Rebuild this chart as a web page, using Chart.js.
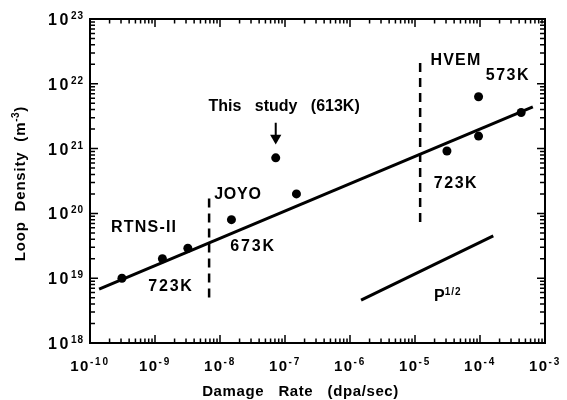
<!DOCTYPE html>
<html><head><meta charset="utf-8">
<script src="https://cdn.jsdelivr.net/npm/chart.js@4.4.1/dist/chart.umd.min.js"></script>
<style>html,body{margin:0;padding:0;background:#fff}#wrap{width:567px;height:400px;position:relative}</style>
</head><body><div id="wrap"><canvas id="c"></canvas></div>
<script>
// ---- data ----
const damageRate  = [3.1e-10, 1.3e-9, 3.2e-9, 1.5e-8, 7.2e-8, 1.5e-7, 3.1e-5, 9.5e-5, 9.5e-5, 4.3e-4];
const loopDensity = [1.0e19, 2.0e19, 2.9e19, 8.0e19, 7.2e20, 2.0e20, 9.2e20, 6.3e21, 1.56e21, 3.6e21];
const fitRate = [1.38e-10, 6.5e-4];
const fitDensity = [6.8e18, 4.4e21];
const slopeRate = [1.48e-6, 1.6e-4];
const slopeDensity = [4.6e18, 4.5e19];
const joyoBoundRate = [6.8e-9, 6.8e-9];
const joyoBoundDensity = [1.7e20, 4.3e18];
const hvemBoundRate = [1.2e-5, 1.2e-5];
const hvemBoundDensity = [2.1e22, 6.4e19];
const arrowRate = [7.2e-8, 7.2e-8];
const arrowDensity = [2.5e21, 1.5e21];
const arrowHeadRate = [7.2e-8];
const arrowHeadDensity = [1.46e21];
const xTickExponents = [-10, -9, -8, -7, -6, -5, -4, -3];
const yTickExponents = [18, 19, 20, 21, 22, 23];
const xTitle = 'Damage   Rate   (dpa/sec)';
const yTitle = ['Loop  Density  (m', '-3', ')'];
const noteTexts = ['RTNS-II', '723K', 'JOYO', '673K', 'This   study   (613K)', 'HVEM', '573K', '723K'];
const noteRates = [6.8e-10, 1.76e-9, 1.89e-8, 3.22e-8, 9.7e-8, 4.27e-5, 2.69e-4, 4.27e-5];
const noteDensities = [5.96e19, 7.3e18, 1.92e20, 3.03e19, 4.39e21, 2.25e22, 1.32e22, 2.84e20];
const noteSpacing = ['1.2px', '1.8px', '0.8px', '1.8px', '0px', '1.2px', '1.5px', '1.5px'];
const slopeNote = ['P', '1/2'];
const slopeNoteRate = 1.96e-5;
const slopeNoteDensity = 5.13e18;

const pts = (xs, ys) => xs.map((x, i) => ({x, y: ys[i]}));
const FONT = '"Liberation Sans", Arial, Helvetica, sans-serif';

function runs(ctx, parts, x, y, align) {
  let widths = parts.map(p => { ctx.font = p.font; ctx.letterSpacing = p.ls || '0px'; return ctx.measureText(p.t).width; });
  let total = widths.reduce((a, b) => a + b, 0);
  let sx = align === 'center' ? x - total / 2 : align === 'right' ? x - total : x;
  ctx.textAlign = 'left';
  parts.forEach((p, i) => {
    ctx.font = p.font; ctx.letterSpacing = p.ls || '0px';
    ctx.fillText(p.t, sx, y + (p.dy || 0));
    sx += widths[i];
  });
  ctx.letterSpacing = '0px';
}

const framePlugin = {
  id: 'frame',
  afterDatasetsDraw(chart) {
    const ctx = chart.ctx, a = chart.chartArea, xs = chart.scales.x, ys = chart.scales.y;
    ctx.save();
    ctx.strokeStyle = '#000'; ctx.fillStyle = '#000';
    ctx.lineWidth = 2;
    ctx.strokeRect(a.left, a.top, a.right - a.left, a.bottom - a.top);
    ctx.lineWidth = 1.5;
    const tick = (p, len, horiz) => {
      ctx.beginPath();
      if (horiz) {
        ctx.moveTo(p, a.bottom); ctx.lineTo(p, a.bottom - len);
        ctx.moveTo(p, a.top); ctx.lineTo(p, a.top + len);
      } else {
        ctx.moveTo(a.left, p); ctx.lineTo(a.left + len, p);
        ctx.moveTo(a.right, p); ctx.lineTo(a.right - len, p);
      }
      ctx.stroke();
    };
    xTickExponents.forEach((e, i) => {
      tick(xs.getPixelForValue(Math.pow(10, e)), 8, true);
      if (i < xTickExponents.length - 1) for (let m = 2; m <= 9; m++) tick(xs.getPixelForValue(m * Math.pow(10, e)), 4.5, true);
    });
    yTickExponents.forEach((e, i) => {
      tick(ys.getPixelForValue(Math.pow(10, e)), 8, false);
      if (i < yTickExponents.length - 1) for (let m = 2; m <= 9; m++) tick(ys.getPixelForValue(m * Math.pow(10, e)), 5, false);
    });
    // tick labels
    ctx.textBaseline = 'alphabetic';
    const sm = 'bold 10px ' + FONT;
    xTickExponents.forEach(e => {
      const px = xs.getPixelForValue(Math.pow(10, e));
      runs(ctx, [{t: '10', font: 'bold 15px ' + FONT, ls: '1.5px'}, {t: String(e), font: sm, dy: -6, ls: '1.8px'}], px, a.bottom + 28, 'center');
    });
    yTickExponents.forEach(e => {
      const py = ys.getPixelForValue(Math.pow(10, e));
      runs(ctx, [{t: '10', font: 'bold 16px ' + FONT, ls: '2.5px'}, {t: String(e), font: sm, dy: -6, ls: '1px'}], a.left - 6, py + 6, 'right');
    });
    // axis titles
    runs(ctx, [{t: xTitle, font: 'bold 15px ' + FONT, ls: '0.6px'}], (a.left + a.right) / 2 - 17, 396, 'center');
    ctx.save();
    ctx.translate(25, 184); ctx.rotate(-Math.PI / 2);
    runs(ctx, [{t: yTitle[0], font: 'bold 15px ' + FONT, ls: '0.8px'}, {t: yTitle[1], font: sm, dy: -6, ls: '0.5px'}, {t: yTitle[2], font: 'bold 15px ' + FONT}], 0, 0, 'center');
    ctx.restore();
    // annotations
    ctx.textBaseline = 'middle';
    noteTexts.forEach((t, i) => {
      runs(ctx, [{t, font: 'bold 16px ' + FONT, ls: noteSpacing[i]}], xs.getPixelForValue(noteRates[i]), ys.getPixelForValue(noteDensities[i]), 'center');
    });
    runs(ctx, [{t: slopeNote[0], font: 'bold 16px ' + FONT}, {t: slopeNote[1], font: 'bold 10px ' + FONT, dy: -5, ls: '1px'}],
      xs.getPixelForValue(slopeNoteRate), ys.getPixelForValue(slopeNoteDensity), 'left');
    ctx.restore();
  }
};

const lineDs = (data, w, dash) => ({type: 'scatter', data, showLine: true, borderColor: '#000', borderWidth: w, borderDash: dash || [], pointRadius: 0, borderCapStyle: 'butt', fill: false});

new Chart(document.getElementById('c'), {
  type: 'scatter',
  data: {
    datasets: [
      lineDs(pts(fitRate, fitDensity), 3),
      lineDs(pts(slopeRate, slopeDensity), 3),
      lineDs(pts(joyoBoundRate, joyoBoundDensity), 2.5, [9, 6]),
      lineDs(pts(hvemBoundRate, hvemBoundDensity), 2.5, [9, 6]),
      lineDs(pts(arrowRate, arrowDensity), 2),
      {data: pts(arrowHeadRate, arrowHeadDensity), pointStyle: 'triangle', rotation: 180, pointRadius: 6.5, backgroundColor: '#000', borderColor: '#000', borderWidth: 0},
      {data: pts(damageRate, loopDensity), pointRadius: 4.5, backgroundColor: '#000', borderColor: '#000', borderWidth: 0}
    ]
  },
  options: {
    responsive: true, maintainAspectRatio: false, animation: false,
    layout: {padding: {left: 90, right: 22, top: 19, bottom: 57}},
    plugins: {legend: {display: false}, tooltip: {enabled: false}},
    scales: {
      x: {type: 'logarithmic', min: 1e-10, max: 1e-3, display: false},
      y: {type: 'logarithmic', min: 1e18, max: 1e23, display: false}
    }
  },
  plugins: [framePlugin]
});
</script></body></html>
